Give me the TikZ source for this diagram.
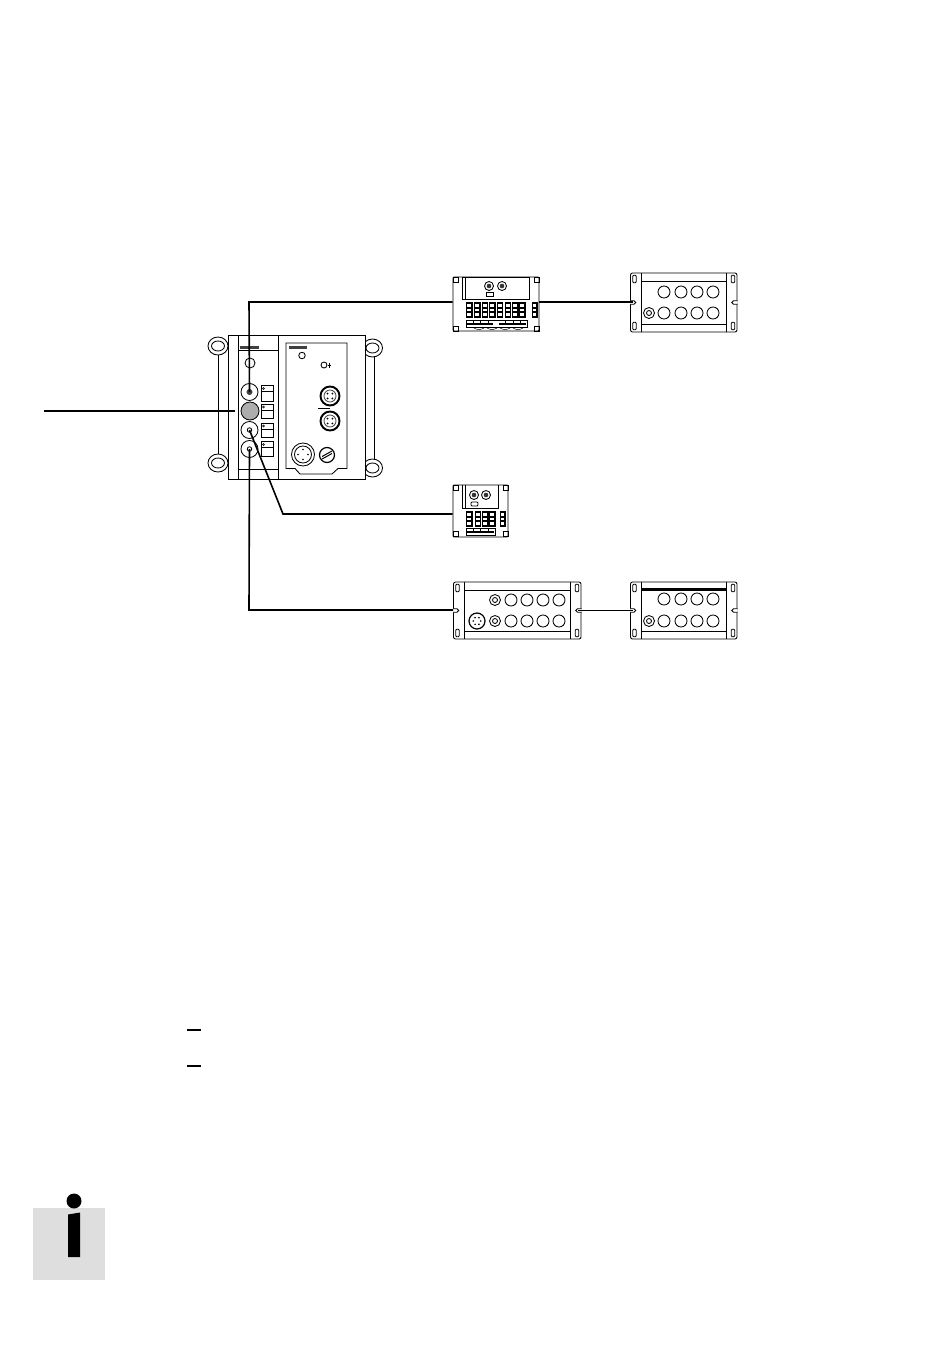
\documentclass[tikz,border=0pt]{standalone}
\usetikzlibrary{positioning}
\usetikzlibrary{shapes.geometric}
\definecolor{led_grey}{gray}{0.68}
\definecolor{info_grey}{gray}{0.87}
\tikzstyle{thin_line} = [
    draw=black,
    line width=0.85pt
]
\tikzstyle{cable} = [
    draw=black,
    line width=1.6pt
]
\tikzstyle{port} = [
    circle,
    thin_line,
    fill=white,
    inner sep=0pt
]
\tikzstyle{ear} = [
    ellipse,
    thin_line,
    fill=white,
    inner sep=0pt
]
\tikzstyle{plate} = [
    rectangle,
    thin_line,
    fill=white,
    inner sep=0pt
]
\tikzstyle{blackfill} = [
    rectangle,
    draw=black!75,
    fill=black!75,
    inner sep=0pt
]
% passive module with two rows of ports
\newcommand{\railbox}[5]{
    \node [plate, rounded corners=2pt, minimum width=#4pt, minimum height=#5pt] (#1) at (#2+#4/2,#3+#5/2) {};
    \draw [thin_line] (#2+11,#3) -- (#2+11,#3+#5) (#2+#4-11,#3) -- (#2+#4-11,#3+#5);
    \draw [thin_line] (#2+11,#3+8) -- (#2+#4-11,#3+8) (#2+11,#3+#5-8) -- (#2+#4-11,#3+#5-8);
    \foreach \sx in {4,#4-4} \foreach \sy in {6,#5-6}
        \draw [thin_line, rounded corners=1pt] (#2+\sx-1.7,#3+\sy-3.8) rectangle (#2+\sx+1.7,#3+\sy+3.8);
    \draw [thin_line, fill=white] (#2-0.5,#3+#5/2-1.8) -- (#2+3.5,#3+#5/2-1.8) arc (-90:90:1.8) -- (#2-0.5,#3+#5/2+1.8);
    \draw [thin_line, fill=white] (#2+#4+0.5,#3+#5/2-1.8) -- (#2+#4-3.5,#3+#5/2-1.8) arc (-90:-270:1.8) -- (#2+#4+0.5,#3+#5/2+1.8);
}
% terminal column
\newcommand{\terminal}[3]{
    \fill (#1,#2) rectangle (#1+#3,#2+16);
    \fill [white] (#1+1.2,#2+2) rectangle (#1+#3-1.2,#2+4.5);
    \fill [white] (#1+1.2,#2+6.5) rectangle (#1+#3-1.2,#2+9);
    \fill [white] (#1+1.2,#2+11) rectangle (#1+#3-1.2,#2+13.5);
}
\begin{document}
\begin{tikzpicture}[x=1pt, y=-1pt]
\useasboundingbox (0,0) rectangle (950,1365);

% mounting plate of the main unit
\draw [thin_line] (218,352) -- (218,457);
\draw [thin_line] (374.5,354) -- (374.5,462);
\foreach \ex/\ey/\en in {218/346/ear_a, 372.5/348/ear_b, 218/463/ear_c, 372.5/468/ear_d} {
    \node [ear, minimum width=20pt, minimum height=18pt] (\en) at (\ex,\ey) {};
    \node [ear, minimum width=13pt, minimum height=10pt] (\en_hole) at (\ex,\ey) {};
}
\node [plate, minimum width=137pt, minimum height=144pt] (unit) at (296.5,407) {};
\draw [thin_line] (238,335) -- (238,479) (278,335) -- (278,479);
\draw [thin_line] (238,350) -- (278,350) (238,469) -- (278,469);
\node [blackfill, minimum width=18pt, minimum height=2pt] (unit_mark) at (249,347) {};

% left column
\node [port, minimum size=10pt] (lamp) at (250,363) {};
\node [port, minimum size=17pt] (port_a) at (249.5,392) {};
\node [port, minimum size=18pt, fill=led_grey] (port_b) at (250,411) {};
\node [port, minimum size=17pt] (port_c) at (249.5,430) {};
\node [port, minimum size=17pt] (port_d) at (249.5,449) {};
\node [blackfill, circle, minimum size=5.5pt] (dot_a) at (249.5,392) {};
\node [port, minimum size=4.5pt] (dot_c) at (249.5,430) {};
\node [port, minimum size=4.5pt] (dot_d) at (249.5,449) {};
\foreach \by/\bh/\bd in {385.5/15.5/6, 404/14/6.5, 423/14/6.5, 441.5/14.5/6} {
    \draw [thin_line] (261.5,\by) rectangle (273.5,\by+\bh) (261.5,\by+\bd) -- (273.5,\by+\bd);
    \draw [thin_line, line width=0.4pt] (263.5,\by+3) circle (1);
}

% right panel
\draw [thin_line] (286,343) -- (347,343) -- (347,468.5) -- (338,468.5) -- (332,474) -- (300,474) -- (295,468.5) -- (286,468.5) -- cycle;
\node [blackfill, minimum width=17pt, minimum height=2pt] (panel_mark) at (298,347) {};
\node [port, minimum size=6.5pt] (panel_led) at (302,355.5) {};
\node [port, minimum size=6pt] (panel_key) at (324,365) {};
\draw [thin_line] (328,365) -- (331,365) (329.5,363) -- (329.5,368);
\node [port, minimum size=19pt, line width=1.9pt] (socket_a) at (330,396) {};
\node [port, minimum size=19pt, line width=1.9pt] (socket_b) at (330,421) {};
\foreach \sn in {socket_a, socket_b} {
    \node [port, minimum size=12pt, draw=black!70] at (\sn) {};
    \foreach \a in {45,135,225,315}
        \fill (\sn) ++(\a:3.5) circle (1);
}
\coordinate (bus_end) at (318,408.5);
\draw [thin_line] (bus_end) -- (330,408.5);
\node [port, minimum size=23pt] (plug) at (303,454.5) {};
\node [port, minimum size=17pt] (plug_in) at (303,454.5) {};
\foreach \a in {0,90,180,270}
    \fill (plug) ++(\a:5) circle (0.9);
\node [port, minimum size=15pt, line width=1.2pt] (screw) at (327,455) {};
\draw [thin_line, line width=1pt] (322,456.5) -- (332,451) (322,459) -- (332,453.5);

% valve block 8
\node [plate, rounded corners=1pt, minimum width=86pt, minimum height=54pt] (block_a) at (496,304) {};
\draw [thin_line] (462,277) rectangle (529,299) (465.5,277) -- (465.5,299);
\foreach \cx/\cy in {453/277, 534/277, 453/326, 534/326}
    \draw [thin_line] (\cx,\cy) rectangle (\cx+5,\cy+5);
\foreach \cx [count=\ci] in {489,502} {
    \node [port, minimum size=9pt] (block_a_c\ci) at (\cx,286) {};
    \fill [black!80] (\cx,286) circle (2.3);
}
\draw [thin_line] (486,292.5) rectangle (493,296.5);
\foreach \tx/\tw in {466/6.5, 474/6.5, 481.5/6.5, 489/6.5, 497/6, 504.5/6.5, 512/6.5, 519/6.5, 532/5.5}
    \terminal{\tx}{302}{\tw}
\draw [line width=1.5pt] (466,320.5) -- (527,320.5);
\draw [thin_line] (466,320) rectangle (527,327);
\draw [thin_line, line width=1.2pt] (467,324) -- (493,324) (499,324) -- (526,324);
\foreach \tx in {473,480,488,505,513,520}
    \draw [thin_line] (\tx,320) -- (\tx,324);
\foreach \tx in {474,487,500,513}
    \draw [thin_line, line width=0.5pt] (\tx,328) .. controls (\tx+3,330) and (\tx+7,330) .. (\tx+10,328);

% valve block 4
\node [plate, rounded corners=1pt, minimum width=55pt, minimum height=52pt] (block_b) at (480.5,511) {};
\draw [thin_line] (462,485) -- (462,508) -- (498,508) -- (498,485) (465.5,485) -- (465.5,508);
\foreach \cx/\cy in {453/485, 503/485, 453/531.5, 503/531.5}
    \draw [thin_line] (\cx,\cy) rectangle (\cx+5,\cy+5);
\foreach \cx [count=\ci] in {474,486} {
    \node [port, minimum size=9pt] (block_b_c\ci) at (\cx,495) {};
    \fill [black!80] (\cx,495) circle (2.3);
}
\draw [thin_line, rounded corners=1pt] (471,502) rectangle (478,506);
\foreach \tx in {466,474.5,482,489}
    \terminal{\tx}{511}{6.5}
\terminal{500}{511}{5.5}
\draw [line width=1.5pt] (466,528.5) -- (495,528.5);
\draw [thin_line] (466,528) rectangle (495,535);
\draw [thin_line, line width=1.2pt] (467,532) -- (494,532);
\foreach \tx in {473,480,488}
    \draw [thin_line] (\tx,528) -- (\tx,532);

% passive modules
\railbox{module_a}{630.5}{273}{106.5}{59}
\railbox{module_b}{453.5}{582}{127.5}{57}
\railbox{module_c}{630.5}{582}{106.5}{57}
\draw [line width=1.3pt] (642,589) -- (725.5,589);
\foreach \px in {664,681,697,713} {
    \foreach \py/\pn in {292/a, 313/b}
        \node [port, minimum size=12pt] (mod_a_\pn\px) at (\px,\py) {};
    \foreach \py/\pn in {599/a, 621/b}
        \node [port, minimum size=12pt] (mod_c_\pn\px) at (\px,\py) {};
}
\foreach \px in {511,527,543,559}
    \foreach \py/\pn in {600/a, 621/b}
        \node [port, minimum size=12pt] (mod_b_\pn\px) at (\px,\py) {};
\foreach \qx/\qy/\qn in {649/313/ring_a, 649/621/ring_c, 495/600/ring_b, 495/621/ring_d} {
    \node [port, minimum size=11pt] (\qn) at (\qx,\qy) {};
    \node [port, minimum size=5pt] at (\qn) {};
}
\node [port, minimum size=16pt, line width=1.2pt] (mod_b_plug) at (477,621) {};
\foreach \a in {0,60,...,300}
    \fill (mod_b_plug) ++(\a:3.8) circle (0.9);

% cables
\coordinate (line_in) at (44,411);
\coordinate (bend_a) at (249,302);
\coordinate (bend_c) at (283,514);
\coordinate (bend_d) at (249,610);
\draw [cable] (line_in) -- (port_b.west -| 235,411);
\draw [cable] (dot_a.center) -- (bend_a) -- (block_a.west |- bend_a);
\draw [cable] (dot_c.center) -- (bend_c) -- (block_b.west |- bend_c);
\draw [cable] (dot_d.center) -- (bend_d) -- (module_b.west |- bend_d);
\draw [cable] (block_a.east |- 0,302) -- (module_a.west |- 0,302) -- ++(3,0);
\draw [thin_line, line width=1.2pt] (module_b.east |- 0,610.5) ++(-3,0) -- (module_c.west |- 0,610.5) -- ++(3,0);

% dashes of the list
\coordinate (dash_a) at (187,1030);
\coordinate (dash_b) at (187,1066);
\draw [cable] (dash_a) -- ++(14,0);
\draw [cable] (dash_b) -- ++(14,0);

% info mark
\fill [info_grey] (33,1208) rectangle (105,1280);
\fill (74,1201) circle (7.5);
\fill (68,1214.5) -- (80,1212.5) -- (80,1257) -- (68,1257) -- cycle;
\end{tikzpicture}
\end{document}
